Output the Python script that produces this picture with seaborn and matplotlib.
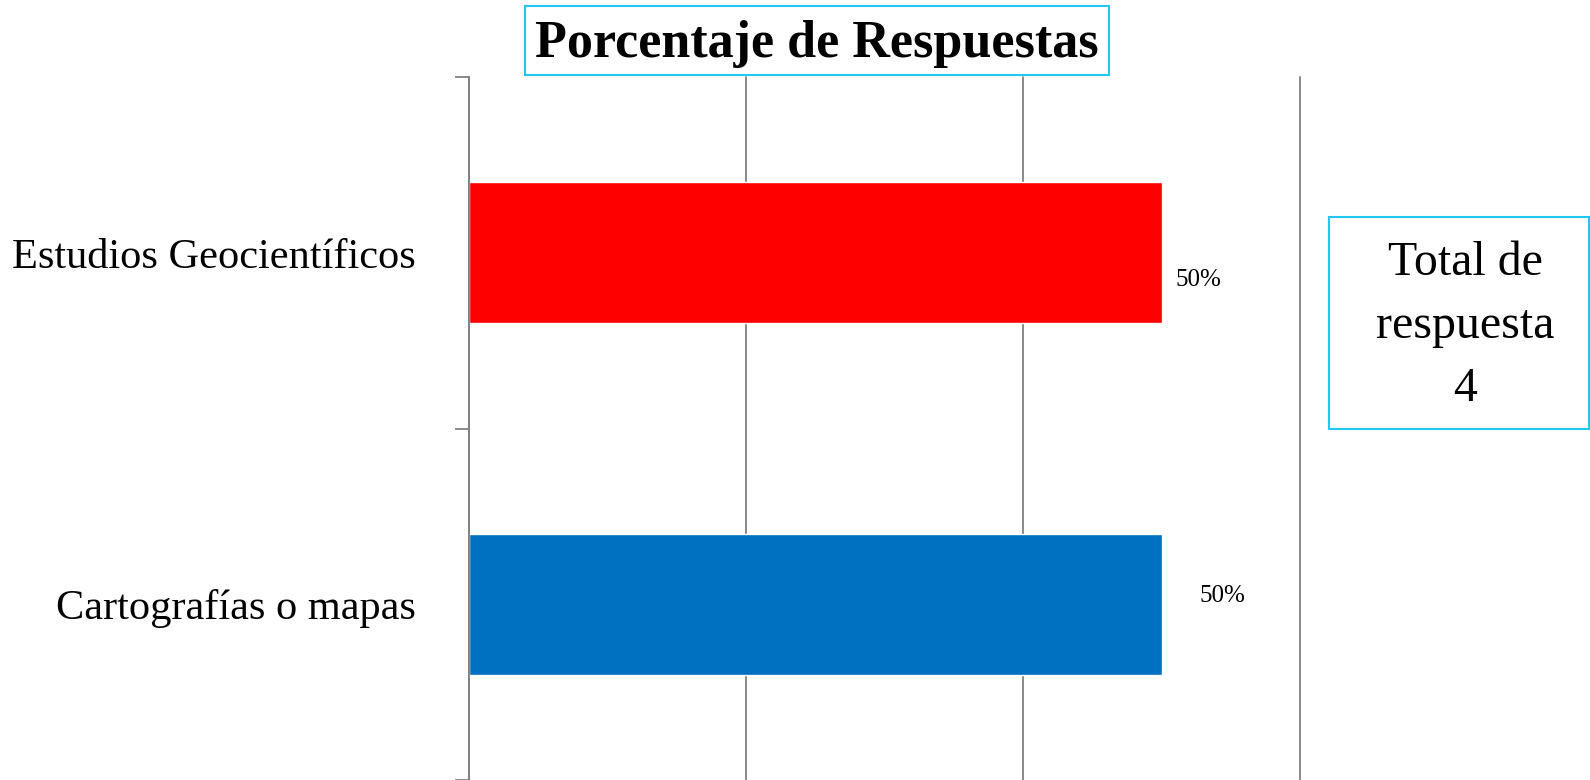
import matplotlib
matplotlib.use('Agg')
import matplotlib.pyplot as plt
import matplotlib.patches as patches
import seaborn as sns

# Chart data
categories = ['Estudios Geocientíficos', 'Cartografías o mapas']
percentages = [0.5, 0.5]
bar_colors = ['#FF0000', '#0070C0']
value_labels = ['50%', '50%']
title_text = 'Porcentaje de Respuestas'
total_text = 'Total de\nrespuesta\n4'

sns.set_style('white')
plt.rcParams['font.family'] = ['Liberation Serif', 'DejaVu Serif']
plt.rcParams['text.color'] = 'black'
plt.rcParams['ytick.labelcolor'] = 'black'

fig = plt.figure(figsize=(15.9, 7.8), dpi=100)
ax = fig.add_axes([469 / 1590, 0.0, (1300 - 469) / 1590, 1 - 77 / 780])

sns.barplot(x=percentages, y=categories, hue=categories, palette=bar_colors,
            legend=False, width=0.4, orient='h', saturation=1, ax=ax)

ax.set_xlim(0, 0.6)
ax.set_ylim(1.5, -0.5)
ax.set_xticks([0, 0.2, 0.4, 0.6])
ax.set_xticklabels([])
ax.xaxis.grid(True, color='#808080', linewidth=1.3)
ax.set_axisbelow(True)
ax.tick_params(axis='x', length=0)
# keep the last gridline at full width
for gl in ax.get_xgridlines():
    gl.set_clip_on(False)

# category tick marks between groups, labels at the centres
ax.set_yticks([-0.5, 0.5, 1.5], minor=True)
ax.tick_params(axis='y', which='minor', left=True, length=10, color='#808080', width=1.3)
ax.tick_params(axis='y', which='major', left=False, length=0, pad=38, labelsize=30.5,
               labelcolor='black')
ax.set_ylabel('')
ax.set_xlabel('')

for side in ['top', 'right', 'bottom']:
    ax.spines[side].set_visible(False)
ax.spines['left'].set_color('#808080')
ax.spines['left'].set_linewidth(1.3)

# data labels, placed like the spreadsheet did
offsets = [(14, -27), (38, 8)]
for i, (v, lab) in enumerate(zip(percentages, value_labels)):
    ax.annotate(lab, xy=(v, i), xytext=offsets[i], textcoords='offset pixels',
                ha='left', va='center', fontsize=18, color='black')

# title in a cyan box
fig.patches.append(patches.Rectangle((525 / 1590, 1 - 75 / 780), 584 / 1590, 69 / 780,
                                     transform=fig.transFigure, fill=False,
                                     edgecolor='#1EC8F0', linewidth=1.5))
fig.text(817 / 1590, 1 - 44 / 780, title_text, ha='center', va='center',
         fontsize=37.5, fontweight='bold', color='black')

# total box on the right
fig.patches.append(patches.Rectangle((1329 / 1590, 1 - 429 / 780), 260 / 1590, 212 / 780,
                                     transform=fig.transFigure, fill=False,
                                     edgecolor='#1EC8F0', linewidth=1.5))
fig.text(1465 / 1590, 1 - 326 / 780, total_text, ha='center', va='center',
         fontsize=34.5, linespacing=1.55, color='black')

plt.savefig('out.png', dpi=100)
